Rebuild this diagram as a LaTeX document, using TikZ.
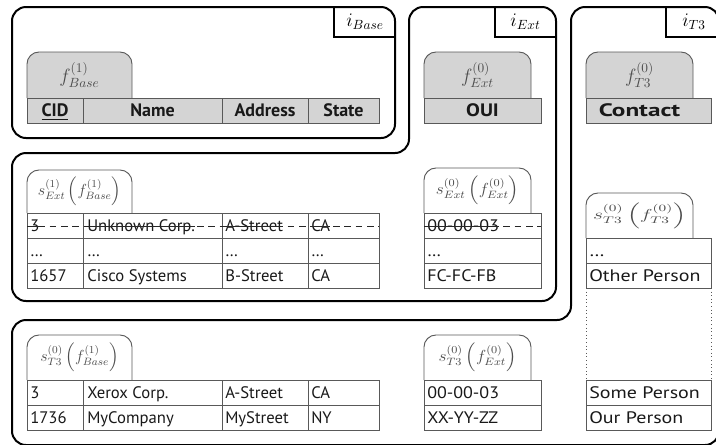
\documentclass[tikz,border=0pt]{standalone}
\usepackage{fontspec}
\setsansfont{PT Sans}
\usepackage{amsmath}
\usepackage{graphicx}
\definecolor{tabgray}{gray}{0.83}
\definecolor{rulegray}{gray}{0.35}
\tikzset{
    region/.style={draw=black, line width=1.5pt, rounded corners=10.5pt}, % outer frame of each index
    ibox/.style={draw=black, line width=1pt},
    headtab/.style={draw=rulegray, fill=tabgray, line width=0.7pt, rounded corners=9pt},
    datatab/.style={draw=rulegray, fill=white, line width=0.7pt, rounded corners=9pt},
    headcell/.style={draw=rulegray, fill=tabgray, line width=0.7pt},
    cell/.style={draw=rulegray, line width=0.7pt},
    entry/.style={anchor=base west, inner sep=0pt, text=black!90, font=\sffamily\fontsize{12.5}{14}\selectfont},
    headentry/.style={anchor=base, inner sep=0pt, text=black!90, font=\sffamily\bfseries\fontsize{13.5}{15}\selectfont},
    flabel/.style={inner sep=0pt, text=black!70, font=\fontsize{14}{16}\selectfont},
    slabel/.style={inner sep=0pt, text=black!70, font=\fontsize{11.5}{13}\selectfont},
    ilabel/.style={inner sep=0pt, font=\fontsize{14.5}{16}\selectfont},
    strikeline/.style={draw=black!85, line width=0.6pt},
    strikerow/.style={strikeline, dash pattern=on 5pt off 3.5pt}
}
% horizontal stretch of the texts in the Ext and T3 columns
\def\extx{1.08}
\def\thrx{1.2}

\begin{document}
\begin{tikzpicture}[x=0.75pt, y=-0.75pt]
    \useasboundingbox (0,0) rectangle (716,444);
    \clip (0,0) rectangle (716,444);

    % the three index regions
    \draw[region] (12,7) rectangle (395,138);
    \draw[region] (409,7) -- (556,7) -- (556,301) -- (12,301) -- (12,153) -- (409,153) -- cycle;
    \draw[region] (571,7) -- (719,7) -- (719,445) -- (12,445) -- (12,320) -- (571,320) -- cycle;

    \draw[ibox] (334,7) -- (334,37) -- (395,37);
    \node[ilabel] (ibase) at (365,22) {$i_{Base}$};
    \draw[ibox] (495,7) -- (495,37) -- (556,37);
    \node[ilabel] (iext) at (525.5,22) {$i_{Ext}$};
    \draw[ibox] (666,7) -- (666,37) -- (719,37);
    \node[ilabel] (ithree) at (694,22) {$i_{T3}$};

    % schema headers
    \filldraw[headtab] (27,98) -- (27,52) -- (132,52) -- (132,98);
    \node[flabel] (fbase) at (79.5,75) {$f^{(1)}_{Base}$};
    \foreach \xa/\xb/\txt [count=\c] in {27/83/\underline{CID}, 83/222/Name, 222/308/Address, 308/379/State} {
        \draw[headcell] (\xa,98) rectangle (\xb,123);
        \node[headentry] (hbase\c) at ({(\xa+\xb)/2},116) {\txt};
    }
    \filldraw[headtab] (424,98) -- (424,52) -- (531,52) -- (531,98);
    \node[flabel] (fext) at (477.5,75) {$f^{(0)}_{Ext}$};
    \draw[headcell] (424,98) rectangle (541,123);
    \node[headentry] (hext) at (482.5,116) {\scalebox{1.15}[1]{OUI}};
    \filldraw[headtab] (586,98) -- (586,52) -- (693,52) -- (693,98);
    \node[flabel] (fthree) at (639.5,75) {$f^{(0)}_{T3}$};
    \draw[headcell] (586,98) rectangle (711,123);
    \node[headentry] (hthree) at (639.5,116) {\scalebox{1.4}[1]{Contact}};

    % middle row: data of the extension
    \filldraw[datatab] (27,213) -- (27,170) -- (132,170) -- (132,213);
    \node[slabel] (sextbase) at (79.5,191.5) {$s^{(1)}_{Ext}\left(f^{(1)}_{Base}\right)$};
    \foreach \ya/\ta/\tb/\tc/\td [count=\r] in {213/3/Unknown Corp./A-Street/CA, 238/\dots/\dots/\dots/\dots, 263/1657/Cisco Systems/B-Street/CA} {
        \foreach \xa/\xb in {27/83, 83/222, 222/308, 308/379} {\draw[cell] (\xa,\ya) rectangle (\xb,\ya+25);}
        \node[entry] (mb\r-1) at (30,\ya+18) {\ta};
        \node[entry] (mb\r-2) at (87,\ya+18) {\tb};
        \node[entry] (mb\r-3) at (225,\ya+18) {\tc};
        \node[entry] (mb\r-4) at (311,\ya+18) {\td};
    }
    \coordinate (sb) at (0,226);
    \draw[strikerow] (27,226) -- (379,226);
    \foreach \c in {1,...,4} {\draw[strikeline] (mb1-\c.west |- sb) -- (mb1-\c.east |- sb);}

    \filldraw[datatab] (424,213) -- (424,168) -- (531,168) -- (531,213);
    \node[slabel] (sextext) at (477.5,190.5) {\scalebox{\extx}[1]{$s^{(0)}_{Ext}\left(f^{(0)}_{Ext}\right)$}};
    \foreach \ya/\txt [count=\r] in {213/00-00-03, 238/\dots, 263/FC-FC-FB} {
        \draw[cell] (424,\ya) rectangle (541,\ya+25);
        \node[entry] (me\r) at (427,\ya+18) {\scalebox{\extx}[1]{\txt}};
    }
    \draw[strikerow] (424,226) -- (541,226);
    \draw[strikeline] (me1.west |- sb) -- (me1.east |- sb);

    % data of T3
    \filldraw[datatab] (586,238) -- (586,193) -- (693,193) -- (693,238);
    \node[slabel] (sthree) at (639.5,215.5) {\scalebox{1.35}[0.9]{$s^{(0)}_{T3}\left(f^{(0)}_{T3}\right)$}};
    \foreach \ya/\txt [count=\r] in {238/\dots, 263/Other Person, 380/Some Person, 405/Our Person} {
        \draw[cell] (586,\ya) rectangle (711,\ya+25);
        \node[entry] (mt\r) at (589,\ya+18) {\scalebox{\thrx}[1]{\txt}};
    }
    \draw[rulegray, line width=0.7pt, dotted] (586,288) -- (586,380) (711,288) -- (711,380);

    % bottom row
    \filldraw[datatab] (27,380) -- (27,335) -- (132,335) -- (132,380);
    \node[slabel] (sthreebase) at (79.5,357.5) {$s^{(0)}_{T3}\left(f^{(1)}_{Base}\right)$};
    \foreach \ya/\ta/\tb/\tc/\td [count=\r] in {380/3/Xerox Corp./A-Street/CA, 405/1736/MyCompany/MyStreet/NY} {
        \foreach \xa/\xb in {27/83, 83/222, 222/308, 308/379} {\draw[cell] (\xa,\ya) rectangle (\xb,\ya+25);}
        \node[entry] (bb\r-1) at (30,\ya+18) {\ta};
        \node[entry] (bb\r-2) at (87,\ya+18) {\tb};
        \node[entry] (bb\r-3) at (225,\ya+18) {\tc};
        \node[entry] (bb\r-4) at (311,\ya+18) {\td};
    }
    \filldraw[datatab] (424,380) -- (424,335) -- (531,335) -- (531,380);
    \node[slabel] (sthreeext) at (477.5,357.5) {\scalebox{\extx}[1]{$s^{(0)}_{T3}\left(f^{(0)}_{Ext}\right)$}};
    \foreach \ya/\txt [count=\r] in {380/00-00-03, 405/XX-YY-ZZ} {
        \draw[cell] (424,\ya) rectangle (541,\ya+25);
        \node[entry] (be\r) at (427,\ya+18) {\scalebox{\extx}[1]{\txt}};
    }
\end{tikzpicture}
\end{document}
